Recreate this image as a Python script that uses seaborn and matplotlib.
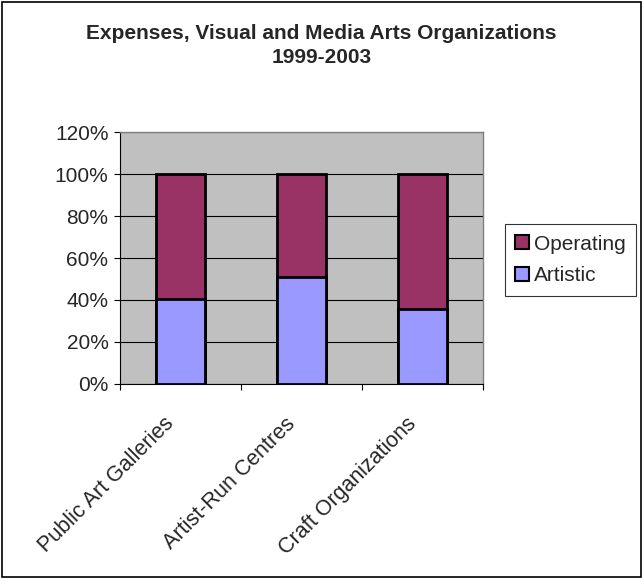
import matplotlib
matplotlib.use("Agg")
import matplotlib.pyplot as plt
import seaborn as sns
import pandas as pd
from matplotlib.patches import Patch, Rectangle
from matplotlib.ticker import FixedLocator

sns.set_theme(style="white")
plt.rcParams["font.family"] = ["Liberation Sans", "DejaVu Sans"]

categories = ["Public Art Galleries", "Artist-Run Centres", "Craft Organizations"]
artistic = [40.5, 51.0, 35.5]
operating = [59.5, 49.0, 64.5]
yticks = [0, 20, 40, 60, 80, 100, 120]

col_operating = "#993366"
col_artistic = "#9999FF"
fs = 15

df = pd.DataFrame({"category": categories, "artistic": artistic, "operating": operating})
df["total"] = df["artistic"] + df["operating"]

fig = plt.figure(figsize=(6.43, 5.79), dpi=100)
ax = fig.add_axes([0.1866, 0.3368, 0.751 - 0.1866, 0.772 - 0.3368])

sns.barplot(data=df, x="category", y="total", color=col_operating, width=0.4,
            edgecolor="black", linewidth=2.0, saturation=1, ax=ax, zorder=3)
sns.barplot(data=df, x="category", y="artistic", color=col_artistic, width=0.4,
            edgecolor="black", linewidth=2.0, saturation=1, ax=ax, zorder=4)

ax.set_facecolor("#C0C0C0")
ax.set_ylim(0, 120)
ax.set_xlim(-0.5, 2.5)
ax.set_yticks(yticks)
ax.set_yticklabels([f"{v}%" for v in yticks], fontsize=fs)
ax.yaxis.grid(True, color="black", linewidth=0.8)
ax.set_axisbelow(True)
ax.set_xlabel("")
ax.set_ylabel("")

# slanted category labels end just left of each bar centre;
# visible ticks sit on the category boundaries
label_offset = -0.14
ax.set_xticks([i + label_offset for i in range(len(categories))])
ax.set_xticklabels(categories, rotation=45, ha="right", va="top",
                   rotation_mode="anchor", fontsize=15.5)
ax.tick_params(axis="x", which="major", length=0, pad=21)
ax.xaxis.set_minor_locator(FixedLocator([-0.5, 0.5, 1.5, 2.5]))
ax.tick_params(axis="x", which="minor", length=4.3, width=0.8, color="black",
               direction="out", bottom=True)
ax.tick_params(axis="y", length=4.3, width=0.8, color="black", direction="out",
               left=True, pad=4)

for side in ["left", "bottom"]:
    ax.spines[side].set_color("black")
    ax.spines[side].set_linewidth(0.8)
for side in ["top", "right"]:
    ax.spines[side].set_color("#808080")
    ax.spines[side].set_linewidth(1.0)

fig.text(0.5, 0.959, "Expenses, Visual and Media Arts Organizations\n1999-2003",
         ha="center", va="top", fontsize=fs, fontweight="bold", linespacing=1.32)

handles = [Patch(facecolor=col_operating, edgecolor="black", linewidth=1.5, label="Operating"),
           Patch(facecolor=col_artistic, edgecolor="black", linewidth=1.5, label="Artistic")]
leg = fig.legend(handles=handles, loc="center left", bbox_to_anchor=(0.785, 0.551),
                 frameon=True, fancybox=False, fontsize=fs, handlelength=0.65,
                 handleheight=0.65, handletextpad=0.25, borderpad=0.5, labelspacing=0.6,
                 borderaxespad=0)
leg.get_frame().set_edgecolor("black")
leg.get_frame().set_linewidth(0.8)

fig.patches.append(Rectangle((0.003, 0.003), 0.994, 0.994, transform=fig.transFigure,
                             fill=False, edgecolor="black", linewidth=1.2))

fig.savefig("out.png", dpi=100, facecolor="white")
